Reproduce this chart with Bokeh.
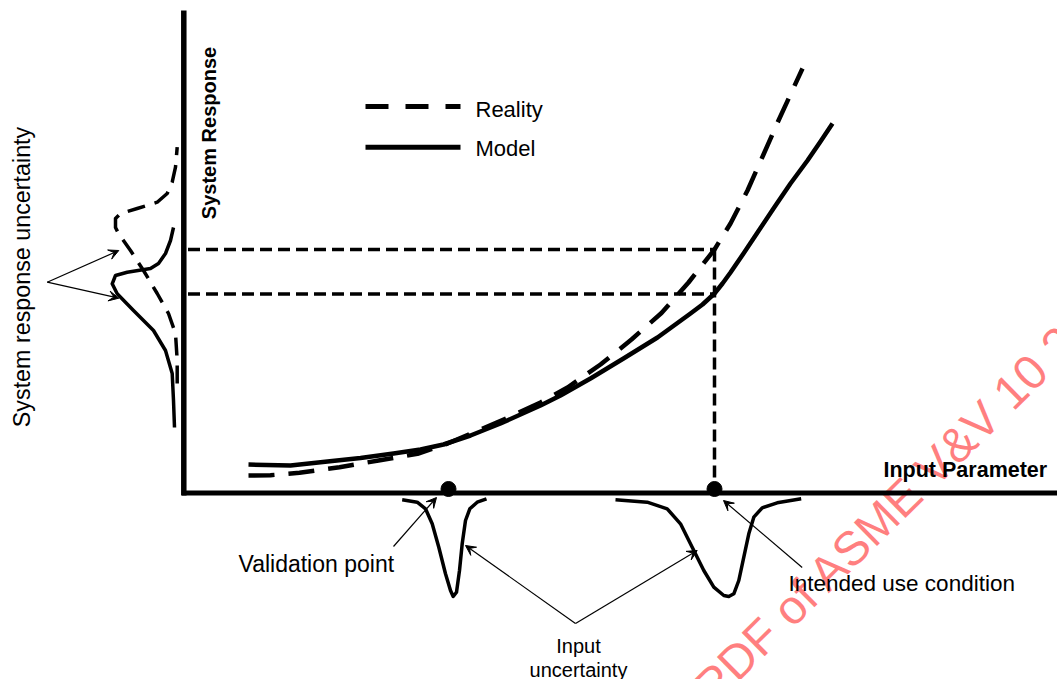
from bokeh.plotting import figure
from bokeh.models import Range1d, Label, Arrow, VeeHead, ColumnDataSource
from bokeh.embed import file_html
from bokeh.resources import INLINE

# ---- data (diagram units: origin at the axes corner, y up) ----
reality_x = [65, 87, 116, 156, 195, 234, 264, 297, 327, 357, 384, 417, 448, 478, 505, 531, 547, 564, 580, 595, 607, 619]
reality_y = [17.5, 17.8, 20.2, 25.8, 32.5, 39.2, 49.5, 63.5, 76.5, 90.5, 105.5, 128.5, 153.5, 180, 210.5, 243.5, 269.5, 302.5, 338.5, 372.5, 398.5, 424.5]

model_x = [65, 107, 144, 177, 210, 237, 260, 287, 317, 357, 377, 407, 440, 474, 507, 519, 531, 539, 547, 560, 574, 590, 607, 624, 637, 649]
model_y = [28.5, 27.5, 31.5, 35, 39.5, 43.5, 48.5, 57.5, 69.5, 87.5, 97.5, 114.5, 134.5, 155.5, 179.5, 188.5, 199.5, 209.5, 220.5, 239.5, 260.5, 284.5, 309.5, 332.5, 351.5, 369.5]

# system response uncertainty (sideways densities left of the y axis)
model_resp_pdf_x = [-9, -10, -11.3, -18, -30, -50, -66.3, -71.3, -68, -56.3, -33, -25, -18, -13, -10]
model_resp_pdf_y = [65.5, 92.5, 119.5, 142.5, 162.5, 182.5, 199.2, 209.2, 217.5, 220.8, 224.5, 229.5, 239.5, 252.5, 265.5]
reality_resp_pdf_x = [-6.3, -6.3, -8, -15, -26.3, -40, -53, -65, -68, -68, -63, -46.3, -26.3, -16.3, -11.3, -8, -6.3]
reality_resp_pdf_y = [109.5, 132.5, 159.5, 179.5, 199.5, 222.5, 242.5, 259.5, 265.5, 274.5, 279.5, 284.5, 290.8, 299.5, 310.8, 325.8, 345.8]

# input uncertainty (densities below the x axis)
val_pdf_x = [218.7, 233.7, 242, 248.7, 255.3, 262, 267, 269.7, 273, 276, 278.7, 282, 286.3, 293.7, 303]
val_pdf_y = [-6.8, -9.2, -15.8, -30.8, -54.2, -80.8, -97.5, -103.5, -99.2, -77.5, -50.8, -27.5, -15.8, -9.2, -5.8]
use_pdf_x = [432, 463.7, 483.7, 497, 508.7, 520.3, 530.3, 540.3, 545.3, 550.3, 555.3, 560.3, 565.3, 570.3, 578.7, 593.7, 617.7]
use_pdf_y = [-6.8, -9.2, -15.8, -30.8, -54.2, -77.5, -94.2, -102.5, -103.5, -100.8, -87.5, -64.2, -40.8, -24.2, -14.8, -9.8, -5.8]

# key points
validation_x = 265
intended_x = 531
reality_at_intended = 243.5
model_at_intended = 199.0

# annotation arrows: start -> end
arrow_x0 = [-136.3, -136.3, 210, 392, 392, 618.7]
arrow_y0 = [210.8, 210.8, -53.5, -130.5, -130.5, -74.5]
arrow_x1 = [-64.7, -64.7, 253, 282, 513.7, 540]
arrow_y1 = [242.5, 194.8, -4.5, -52.5, -57.5, -7.5]

FONT = "Liberation Sans"

p = figure(width=1057, height=679,
           x_range=Range1d(-183, 874), y_range=Range1d(-186.5, 492.5),
           output_backend="svg", toolbar_location=None,
           x_axis_location=None, y_axis_location=None, min_border=0)
p.grid.visible = False
p.outline_line_color = None
p.background_fill_color = "white"
p.border_fill_color = "white"

# watermark (underlay)
p.add_layout(Label(x=519.4, y=-200.9, text="PDF of ASME V&V 10 2019", angle=44.5, angle_units="deg",
                   text_font=FONT, text_font_size="48px", text_color="red", text_alpha=0.5,
                   text_align="left", text_baseline="alphabetic", level="underlay"))
p.add_layout(Label(x=519.4, y=-200.9, text="Click to view the full ", angle=44.5, angle_units="deg",
                   text_font=FONT, text_font_size="48px", text_color="red", text_alpha=0.5,
                   text_align="right", text_baseline="alphabetic", level="underlay"))

# axes
p.line([-1.5, 890], [0, 0], line_width=5, color="black")
p.line([0.3, 0.3], [-2.5, 482.5], line_width=5.5, color="black")

# guide lines
p.line([4.5, intended_x], [reality_at_intended, reality_at_intended], line_width=3.5, color="black", line_dash="12 6")
p.line([4.5, intended_x], [model_at_intended, model_at_intended], line_width=3.5, color="black", line_dash="12 6")
p.line([intended_x, intended_x], [reality_at_intended, 0], line_width=3.5, color="black", line_dash="12 6")

# main curves
p.line(model_x, model_y, line_width=4.5, color="black", line_join="round")
p.line(reality_x, reality_y, line_width=4.5, color="black", line_dash="26 14", line_join="round")

# densities
p.line(model_resp_pdf_x, model_resp_pdf_y, line_width=3.5, color="black", line_join="round")
p.line(reality_resp_pdf_x, reality_resp_pdf_y, line_width=3.5, color="black", line_dash="18 10", line_join="round")
p.line(val_pdf_x, val_pdf_y, line_width=3.5, color="black", line_join="round")
p.line(use_pdf_x, use_pdf_y, line_width=3.5, color="black", line_join="round")

# points on the input axis
p.scatter([validation_x, intended_x], [4, 4], size=15, color="black")

# legend
p.line([182, 277], [386.5, 386.5], line_width=5, color="black", line_dash="23 17")
p.line([182, 277], [345.8, 345.8], line_width=5, color="black")

# arrows
asrc = ColumnDataSource(dict(x0=arrow_x0, y0=arrow_y0, x1=arrow_x1, y1=arrow_y1))
p.add_layout(Arrow(source=asrc, x_start="x0", y_start="y0", x_end="x1", y_end="y1",
                   line_width=1.2, line_color="black",
                   end=VeeHead(size=10, fill_color="black", line_color="black", line_width=1)))

def lab(x, y, t, size, align="left", baseline="alphabetic", angle=0, bold=False):
    p.add_layout(Label(x=x, y=y, text=t, text_font=FONT, text_font_size=size,
                       text_font_style="bold" if bold else "normal",
                       text_align=align, text_baseline=baseline, angle=angle, angle_units="deg",
                       text_color="black"))

lab(292, 384, "Reality", "22px")
lab(292, 345, "Model", "22px")
lab(25, 360, "System Response", "20px", align="center", angle=90, bold=True)
lab(-162, 216, "System response uncertainty", "23.3px", align="center", angle=90)
lab(700, 23.3, "Input Parameter", "21.5px", bold=True)
lab(55, -70.7, "Validation point", "23px")
lab(605, -90, "Intended use condition", "22.5px")
lab(395, -153.3, "Input", "20px", align="center")
lab(395, -177, "uncertainty", "20px", align="center")

open("out.html", "w").write(file_html(p, INLINE))
